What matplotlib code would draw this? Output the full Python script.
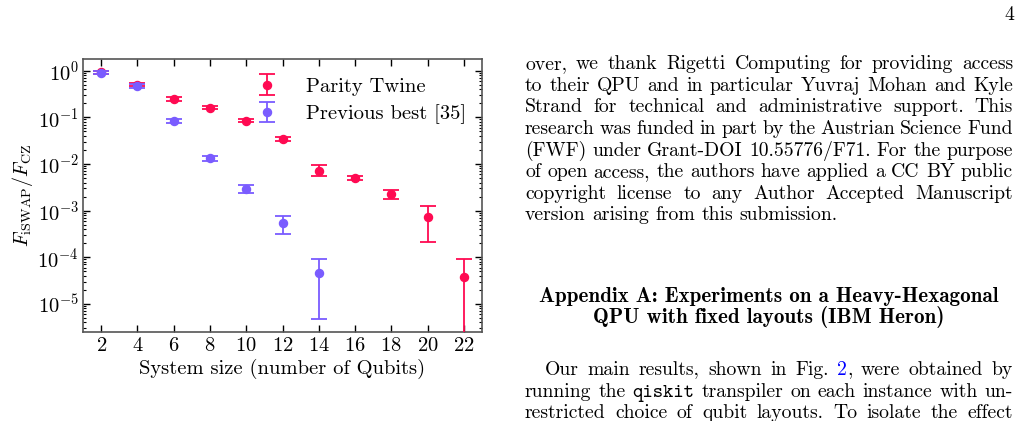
import matplotlib
matplotlib.use("Agg")
import matplotlib.pyplot as plt
import numpy as np

plt.rcParams['font.family'] = 'serif'
plt.rcParams['font.serif'] = ['cmr10']
plt.rcParams['mathtext.fontset'] = 'cm'
plt.rcParams['axes.formatter.use_mathtext'] = True
plt.rcParams['axes.unicode_minus'] = False

# ---------------- data ----------------
qubits_pt = [2, 4, 6, 8, 10, 12, 14, 16, 18, 20, 22]
pt_val = [0.92, 0.50, 0.248, 0.160, 0.085, 0.034, 0.0072, 0.0049, 0.0023, 0.00073, 3.8e-5]
pt_low = [0.85, 0.46, 0.225, 0.148, 0.080, 0.031, 0.0054, 0.0045, 0.00176, 0.00021, 1e-8]
pt_high = [0.99, 0.54, 0.272, 0.173, 0.091, 0.037, 0.0093, 0.0054, 0.00283, 0.00127, 9.1e-5]

qubits_pb = [2, 4, 6, 8, 10, 12, 14]
pb_val = [0.90, 0.47, 0.082, 0.0133, 0.0029, 0.00053, 4.7e-5]
pb_low = [0.84, 0.43, 0.074, 0.0118, 0.0024, 0.000314, 4.8e-6]
pb_high = [0.97, 0.51, 0.091, 0.0150, 0.0036, 0.00076, 9.0e-5]

x_ticks = [2, 4, 6, 8, 10, 12, 14, 16, 18, 20, 22]
labels = ["Parity Twine", "Previous best [35]"]
red = "#ff0a52"
purple = "#7a5cff"

body_lines = [
    "over, we thank Rigetti Computing for providing access",
    "to their QPU and in particular Yuvraj Mohan and Kyle",
    "Strand for technical and administrative support.  This",
    "research was funded in part by the Austrian Science Fund",
    "(FWF) under Grant-DOI 10.55776/F71. For the purpose",
    "of open access, the authors have applied a CC BY public",
    "copyright license to any Author Accepted Manuscript",
]
body_last = "version arising from this submission."
heading = ["Appendix A: Experiments on a Heavy-Hexagonal",
           "QPU with fixed layouts (IBM Heron)"]
para_lines = [
    "Our main results, shown in Fig. {L2}, were obtained by",
    "running the {Tqiskit} transpiler on each instance with un-",
    "restricted choice of qubit layouts.  To isolate the effect",
]

W, H = 1024, 421
fig = plt.figure(figsize=(W / 100, H / 100), dpi=100)
ax = fig.add_axes([83 / W, (H - 332) / H, (482 - 83) / W, (332 - 59) / H])

def err(v, lo, hi):
    v = np.array(v); return [v - np.array(lo), np.array(hi) - v]

ekw = dict(fmt='o', markersize=5.8, capsize=6, capthick=1.3, elinewidth=1.3, linestyle='none')
ax.errorbar(qubits_pt, pt_val, yerr=err(pt_val, pt_low, pt_high), color=red, label=labels[0], zorder=3, **ekw)
ax.errorbar(qubits_pb, pb_val, yerr=err(pb_val, pb_low, pb_high), color=purple, label=labels[1], zorder=4, **ekw)

CFS = 14.8
ax.set_yscale('log')
ax.set_ylim(2.5e-6, 1.78)
ax.set_xlim(1, 23)
ax.set_xticks(x_ticks)
ax.set_yticks([1e-5, 1e-4, 1e-3, 1e-2, 1e-1, 1])
ax.yaxis.set_minor_locator(matplotlib.ticker.LogLocator(base=10, subs=np.arange(2, 10)))
ax.yaxis.set_minor_formatter(matplotlib.ticker.NullFormatter())
ax.tick_params(which='both', direction='in', top=True, right=True, labelsize=CFS)
ax.tick_params(which='major', length=5, width=1)
ax.tick_params(which='minor', length=2.5, width=0.8)
ax.tick_params(axis='x', which='minor', bottom=False, top=False)
ax.tick_params(axis='y', which='major', pad=3)
for s in ax.spines.values():
    s.set_color('#555555'); s.set_linewidth(1.2)
ax.set_xlabel("System size (number of Qubits)", fontsize=CFS, labelpad=3)
ax.set_ylabel(r"$F_{\mathrm{iSWAP}}/F_{\mathrm{CZ}}$", fontsize=14.5, labelpad=2)
ax.legend(frameon=False, fontsize=CFS, loc='upper left', bbox_to_anchor=(0.395, 0.985),
          handlelength=1.2, handletextpad=1.3, labelspacing=0.42, borderaxespad=0.3)

# --------------- page text ---------------
renderer = fig.canvas.get_renderer()
FS = 14.2
HFS = 15.2

def pieces_of(word):
    out = []
    i = 0
    while i < len(word):
        if word[i] == '{':
            j = word.index('}', i)
            tag = word[i + 1]
            out.append((word[i + 2:j], tag))
            i = j + 1
        else:
            j = word.find('{', i)
            if j < 0: j = len(word)
            out.append((word[i:j], 'n'))
            i = j
    return out

def make_piece(txt, tag, x, y):
    kw = dict(fontsize=FS, va='baseline', ha='left')
    if tag == 'T':
        kw['family'] = 'cmtt10'
    if tag == 'L':
        kw['color'] = '#0000ff'
    t = fig.text(x / W, 1 - y / H, txt, **kw)
    return t

def draw_line(line, x0, x1, y, justify=True):
    words = line.split()
    groups = []
    for w in words:
        items = []
        x = 0
        for txt, tag in pieces_of(w):
            t = make_piece(txt, tag, 0, y)
            bb = t.get_window_extent(renderer)
            items.append((t, x))
            x += bb.width
        groups.append((items, x))
    total = sum(g[1] for g in groups)
    if justify and len(groups) > 1:
        gap = (x1 - x0 - total) / (len(groups) - 1)
    else:
        gap = FS * 100 / 72 * 0.33
    cx = x0
    for items, wdt in groups:
        for t, off in items:
            t.set_x((cx + off) / W)
        cx += wdt + gap

base_y = [69, 91, 112.5, 134, 156, 177.5, 199]
for ln, y in zip(body_lines, base_y):
    draw_line(ln, 525, 1013, y)
draw_line(body_last, 525, 1013, 220.5, justify=False)

fig.text(769 / W, 1 - 301.7 / H, heading[0], family='cmb10', fontsize=HFS, ha='center', va='baseline')
fig.text(769 / W, 1 - 322.7 / H, heading[1], family='cmb10', fontsize=HFS, ha='center', va='baseline')

draw_line(para_lines[0], 545, 1013, 375)
draw_line(para_lines[1], 525, 1013, 396.7)
draw_line(para_lines[2], 525, 1013, 418.3)

fig.text(1014 / W, 1 - 20 / H, "4", fontsize=FS, ha='right', va='baseline')

fig.savefig("out.png", dpi=100)
